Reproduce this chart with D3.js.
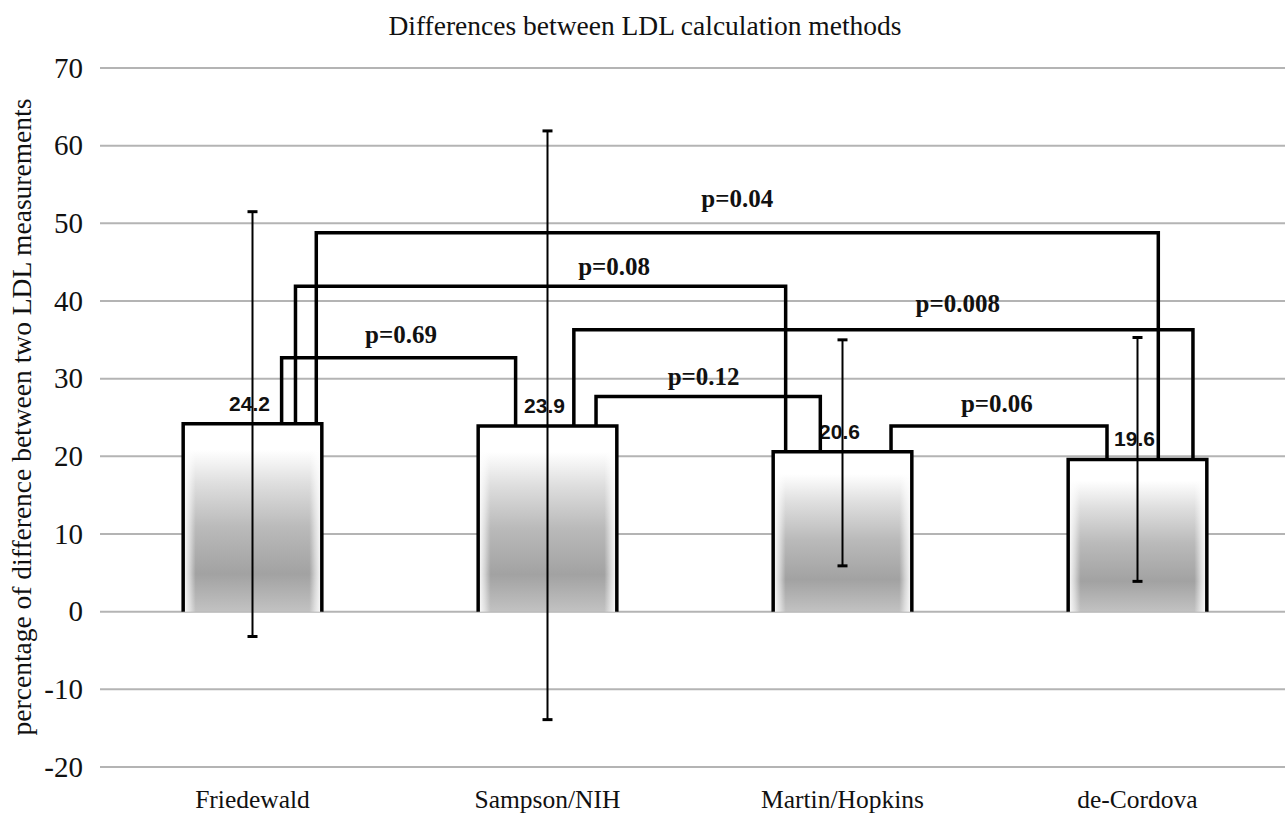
<!DOCTYPE html>
<html>
<head>
<meta charset="utf-8">
<script src="https://cdn.jsdelivr.net/npm/d3@7"></script>
<style>
  html, body { margin: 0; padding: 0; background: #fff; }
  svg { display: block; }
</style>
</head>
<body>
<div id="chart"></div>
<script>
// chart data
const categories = ["Friedewald", "Sampson/NIH", "Martin/Hopkins", "de-Cordova"];
const means = [24.2, 23.9, 20.6, 19.6];
const errHigh = [51.5, 61.9, 35.0, 35.3];
const errLow = [-3.2, -13.9, 5.9, 3.9];
const yTicks = [-20, -10, 0, 10, 20, 30, 40, 50, 60, 70];

// comparisons: from bar, to bar, bracket height, p label
const compFrom = [0, 0, 0, 1, 1, 2];
const compTo = [3, 2, 1, 3, 2, 3];
const compHeight = [48.8, 41.9, 32.7, 36.3, 27.7, 23.9];
const compLabels = ["p=0.04", "p=0.08", "p=0.69", "p=0.008", "p=0.12", "p=0.06"];

// bracket leg placement (fraction of bar width from bar centre) and label placement
const legLeft = [0.46, 0.31, 0.21, 0.19, 0.35, 0.35];
const legRight = [0.15, -0.41, -0.23, 0.40, -0.16, -0.22];
const labelAlong = [0.50, 0.65, 0.51, 0.62, 0.48, 0.49];
const labelLift = [26, 11, 15, 18, 12, 14];

const width = 1285, height = 814;
const margin = { top: 68, right: 0, bottom: 47, left: 105 };

const svg = d3.select("#chart").append("svg")
    .attr("width", width)
    .attr("height", height);

// gradients for the bars
const defs = svg.append("defs");
const vg = defs.append("linearGradient")
    .attr("id", "barFill")
    .attr("x1", 0).attr("y1", 0).attr("x2", 0).attr("y2", 1);
[[0, "#ffffff"], [0.14, "#ffffff"], [0.32, "#dedede"], [0.55, "#bababa"], [0.8, "#a2a2a2"], [1, "#c2c2c2"]]
    .forEach(([o, c]) => vg.append("stop").attr("offset", o).attr("stop-color", c));
const hg = defs.append("linearGradient")
    .attr("id", "barEdge")
    .attr("x1", 0).attr("y1", 0).attr("x2", 1).attr("y2", 0);
[[0, 1], [0.05, 0.5], [0.09, 0], [0.91, 0], [0.95, 0.5], [1, 1]]
    .forEach(([o, a]) => hg.append("stop").attr("offset", o).attr("stop-color", "#fff").attr("stop-opacity", a));

const x = d3.scaleBand()
    .domain(categories)
    .range([margin.left, width - margin.right])
    .paddingInner(0.53)
    .paddingOuter(0.265);

const y = d3.scaleLinear()
    .domain([-20, 70])
    .range([height - margin.bottom, margin.top]);

const cx = i => x(categories[i]) + x.bandwidth() / 2;

// gridlines
svg.append("g")
    .selectAll("line")
    .data(yTicks)
    .join("line")
    .attr("x1", margin.left - 5)
    .attr("x2", width)
    .attr("y1", d => y(d))
    .attr("y2", d => y(d))
    .attr("stroke", "#b4b4b4")
    .attr("stroke-width", 2);

// y tick labels (plain hyphen for negatives, as in the original)
const yAxis = svg.append("g")
    .attr("transform", `translate(${margin.left - 22},0)`)
    .call(d3.axisLeft(y).tickValues(yTicks).tickFormat(d => String(d)).tickSize(0).tickPadding(0));
yAxis.select(".domain").remove();
yAxis.selectAll("text")
    .attr("font-family", "'Liberation Serif', 'Times New Roman', serif")
    .attr("font-size", 29)
    .attr("fill", "#111");

// bars
const bars = svg.append("g");
bars.selectAll("rect.fill")
    .data(means)
    .join("rect")
    .attr("class", "fill")
    .attr("x", (d, i) => x(categories[i]))
    .attr("y", d => y(d))
    .attr("width", x.bandwidth())
    .attr("height", d => y(0) - y(d))
    .attr("fill", "url(#barFill)");
bars.selectAll("rect.edge")
    .data(means)
    .join("rect")
    .attr("class", "edge")
    .attr("x", (d, i) => x(categories[i]))
    .attr("y", d => y(d))
    .attr("width", x.bandwidth())
    .attr("height", d => y(0) - y(d))
    .attr("fill", "url(#barEdge)");
bars.selectAll("path")
    .data(means)
    .join("path")
    .attr("d", (d, i) => {
        const x0 = x(categories[i]), x1 = x0 + x.bandwidth();
        return `M${x0},${y(0)}V${y(d)}H${x1}V${y(0)}`;
    })
    .attr("fill", "none")
    .attr("stroke", "#000")
    .attr("stroke-width", 3.5)
    .attr("stroke-linejoin", "miter");

// error bars
const errG = svg.append("g");
errG.selectAll("line.stem")
    .data(means)
    .join("line")
    .attr("class", "stem")
    .attr("x1", (d, i) => cx(i))
    .attr("x2", (d, i) => cx(i))
    .attr("y1", (d, i) => y(errHigh[i]))
    .attr("y2", (d, i) => y(errLow[i]))
    .attr("stroke", "#000")
    .attr("stroke-width", 2);
errG.selectAll("line.cap")
    .data(means.flatMap((d, i) => [[i, errHigh[i]], [i, errLow[i]]]))
    .join("line")
    .attr("class", "cap")
    .attr("x1", d => cx(d[0]) - 5)
    .attr("x2", d => cx(d[0]) + 5)
    .attr("y1", d => y(d[1]))
    .attr("y2", d => y(d[1]))
    .attr("stroke", "#000")
    .attr("stroke-width", 3);

// value labels
svg.append("g")
    .selectAll("text")
    .data(means)
    .join("text")
    .attr("x", (d, i) => cx(i) - 3)
    .attr("y", d => y(d) - 13)
    .attr("text-anchor", "middle")
    .attr("font-family", "'Liberation Sans', Arial, sans-serif")
    .attr("font-weight", "bold")
    .attr("font-size", 21)
    .attr("fill", "#111")
    .text(d => d.toFixed(1));

// significance brackets
const brG = svg.append("g");
compLabels.forEach((lab, k) => {
    const a = compFrom[k], b = compTo[k];
    const xa = cx(a) + legLeft[k] * x.bandwidth();
    const xb = cx(b) + legRight[k] * x.bandwidth();
    const yh = y(compHeight[k]);
    brG.append("path")
        .attr("d", `M${xa},${y(means[a])}V${yh}H${xb}V${y(means[b])}`)
        .attr("fill", "none")
        .attr("stroke", "#000")
        .attr("stroke-width", 3.5);
    brG.append("text")
        .attr("x", xa + (xb - xa) * labelAlong[k])
        .attr("y", yh - labelLift[k])
        .attr("text-anchor", "middle")
        .attr("font-family", "'Liberation Serif', 'Times New Roman', serif")
        .attr("font-weight", "bold")
        .attr("font-size", 25)
        .attr("fill", "#111")
        .text(lab);
});

// category labels
svg.append("g")
    .selectAll("text")
    .data(categories)
    .join("text")
    .attr("x", (d, i) => cx(i))
    .attr("y", 808)
    .attr("text-anchor", "middle")
    .attr("font-family", "'Liberation Serif', 'Times New Roman', serif")
    .attr("font-size", 25.5)
    .attr("fill", "#111")
    .text(d => d);

// title
svg.append("text")
    .attr("x", 645)
    .attr("y", 35)
    .attr("text-anchor", "middle")
    .attr("font-family", "'Liberation Serif', 'Times New Roman', serif")
    .attr("font-size", 27.5)
    .attr("fill", "#111")
    .text("Differences between LDL calculation methods");

// y axis label
svg.append("text")
    .attr("transform", "translate(31,417) rotate(-90)")
    .attr("text-anchor", "middle")
    .attr("font-family", "'Liberation Serif', 'Times New Roman', serif")
    .attr("font-size", 27.5)
    .attr("fill", "#111")
    .text("percentage of difference between two LDL measurements");
</script>
</body>
</html>
